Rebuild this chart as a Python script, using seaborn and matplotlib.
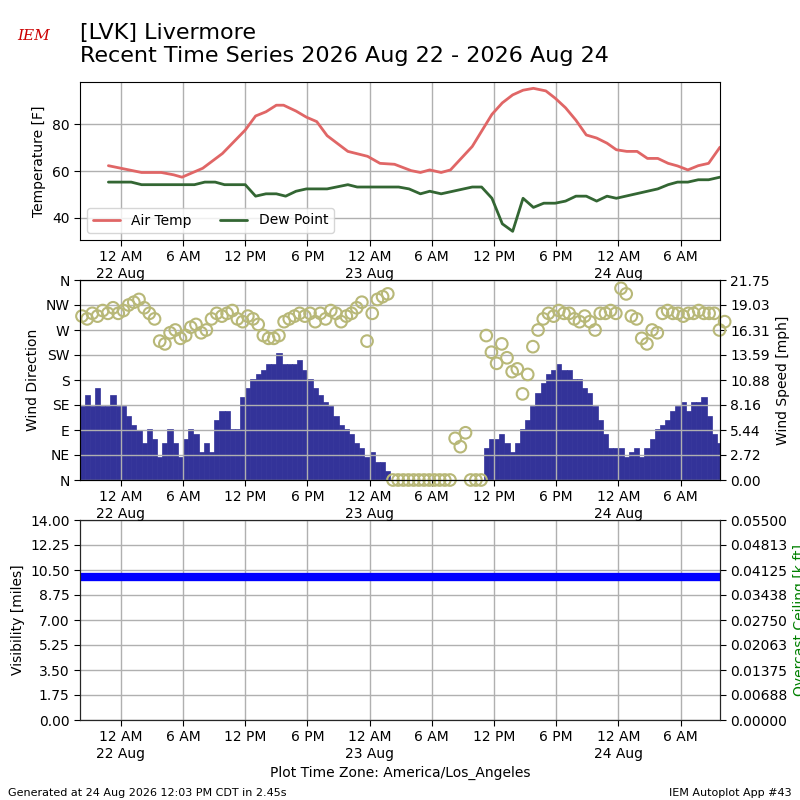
import numpy as np
import pandas as pd
import seaborn as sns
import matplotlib.pyplot as plt

sns.set_style("white")
plt.rcParams['font.family'] = ['DejaVu Sans']
plt.rcParams['text.color'] = 'black'
plt.rcParams['axes.labelcolor'] = 'black'
plt.rcParams['xtick.color'] = 'black'
plt.rcParams['ytick.color'] = 'black'

# hours relative to 12 AM 22 Aug
temp_hours = [-1.2, 2.0, 3.9, 5.1, 5.9, 7.9, 9.8, 12.0, 13.0, 14.0, 15.0, 15.7, 16.9, 17.9, 18.9,
              19.9, 21.9, 23.8, 25.0, 26.4, 28.0, 28.9, 29.8, 30.9, 31.8, 33.9, 35.8, 36.8, 37.8,
              38.8, 39.8, 41.0, 41.9, 42.9, 43.9, 44.9, 45.9, 46.9, 47.8, 48.8, 49.8, 50.8, 51.8,
              52.8, 53.7, 54.7, 55.7, 56.7, 57.8]
air_temp = [62.3, 59.4, 59.4, 58.4, 57.4, 61.2, 67.5, 77.5, 83.5, 85.3, 88.1, 88.1, 85.6, 83.0, 81.1,
            75.1, 68.4, 66.3, 63.3, 62.9, 60.2, 59.4, 60.5, 59.4, 60.5, 70.5, 84.2, 89.1, 92.5,
            94.5, 95.3, 94.2, 91.1, 87.0, 81.7, 75.4, 74.1, 71.9, 69.1, 68.4, 68.4, 65.4, 65.4,
            63.3, 62.2, 60.5, 62.3, 63.3, 70.2]
dew_hours = [-1.2, 1.0, 2.0, 7.1, 8.1, 9.1, 10.0, 12.0, 13.0, 14.0, 15.0, 15.9, 16.9, 17.9, 19.9,
             21.9, 22.8, 26.8, 27.8, 28.9, 29.8, 30.9, 33.9, 34.8, 35.8, 36.8, 37.8, 38.8, 39.8,
             40.8, 41.9, 42.9, 43.9, 44.9, 45.9, 46.9, 47.8, 51.8, 52.8, 53.7, 54.7, 55.7, 56.7, 57.8]
dew_point = [55.3, 55.3, 54.2, 54.2, 55.3, 55.3, 54.2, 54.2, 49.3, 50.3, 50.3, 49.3, 51.4, 52.4, 52.4,
             54.2, 53.2, 53.2, 52.4, 50.3, 51.4, 50.3, 53.2, 53.2, 48.4, 37.5, 34.3, 48.4, 44.5,
             46.3, 46.3, 47.2, 49.3, 49.3, 47.2, 49.3, 48.4, 52.4, 54.2, 55.3, 55.3, 56.3, 56.3, 57.4]

# 30 minute wind observations starting at -4 h
wind_speed = [8.0, 9.2, 8.0, 10.0, 8.0, 8.0, 9.2, 8.0,
              8.0, 7.0, 6.0, 5.4, 4.0, 5.5, 4.5, 2.5, 4.0, 5.6, 4.0, 2.5, 4.5, 5.5, 5.0, 3.0,
              4.0, 3.0, 6.5, 7.5, 7.5, 5.5, 5.5, 9.0, 10.0, 11.0, 11.5, 12.0, 12.6, 12.6, 13.8, 12.6,
              12.6, 12.6, 13.0, 12.0, 11.0, 10.0, 9.2, 8.5, 8.0, 7.0, 6.0, 5.5, 5.0, 4.0, 3.5, 2.5,
              3.0, 2.0, 2.0, 1.0, 0.0, 0.0, 0.0, 0.0, 0.0, 0.0, 0.0, 0.0, 0.0, 0.0, 0.0, 0.0,
              0.0, 0.0, 0.0, 0.0, 0.0, 0.0, 3.5, 4.5, 4.5, 5.0, 4.0, 3.0, 4.0, 5.5, 6.5, 8.0,
              9.5, 10.5, 11.5, 12.0, 12.6, 12.0, 12.0, 11.0, 11.0, 10.0, 9.5, 8.0, 6.5, 5.0, 3.5,
              3.5, 3.5, 2.5, 3.0, 3.5, 2.5, 3.5, 4.5, 5.5, 6.0, 6.5, 7.5, 8.0, 8.5, 7.5, 8.5,
              8.5, 9.0, 7.0, 5.0, 4.0, 2.5]
wind_dir = [295, 290, 300, 295, 305, 300, 310, 300,
            305, 315, 320, 325, 310, 300, 290, 250, 245, 265, 270, 255, 260, 275, 280, 265,
            270, 290, 300, 295, 300, 305, 290, 285, 295, 290, 280, 260, 255, 255, 260, 285,
            290, 295, 300, 295, 300, 285, 300, 290, 305, 300, 285, 295, 300, 310, 320, 250,
            300, 325, 330, 335, 0, 0, 0, 0, 0, 0, 0, 0, 0, 0, 0, 0,
            75, 60, 85, 0, 0, 0, 260, 230, 210, 245, 220, 195, 200, 155, 190, 240,
            270, 290, 300, 295, 305, 300, 300, 290, 285, 295, 285, 270, 300, 300, 305,
            300, 345, 335, 295, 290, 255, 245, 270, 265, 300, 305, 300, 300, 295, 300, 300,
            305, 300, 300, 300, 270, 285]
wind_hours = [-4.0 + 0.5 * i for i in range(len(wind_speed))]
visibility = [10.0] * len(wind_speed)

x_ticks = list(range(0, 55, 6))
x_labels = ["12 AM\n22 Aug", "6 AM", "12 PM", "6 PM", "12 AM\n23 Aug", "6 AM", "12 PM", "6 PM",
            "12 AM\n24 Aug", "6 AM"]
x_lim = (-3.94, 57.8)

fig = plt.figure(figsize=(8, 8), dpi=100)
ax1 = fig.add_axes([0.1, 0.7, 0.8, 0.1975])
ax2 = fig.add_axes([0.1, 0.4, 0.8, 0.25])
ax3 = fig.add_axes([0.1, 0.1, 0.8, 0.25])

sns.lineplot(x=temp_hours, y=air_temp, ax=ax1, color="#e06666", lw=2, label="Air Temp")
sns.lineplot(x=dew_hours, y=dew_point, ax=ax1, color="#336633", lw=2, label="Dew Point")
ax1.set_ylim(30.6, 98)
ax1.set_yticks([40, 60, 80])
ax1.set_ylabel("Temperature [F]")
ax1.legend(loc="lower left", ncol=2, fontsize=10)

# wind speed bars on right axis, direction on left
ax2r = ax2.twinx()
ax2r.bar(wind_hours, wind_speed, width=0.5, color="#333399", edgecolor="#333399", lw=0.5,
         align="edge", zorder=1)
ax2r.set_ylim(0, 21.75)
ax2r.set_yticks(np.linspace(0, 21.75, 9))
ax2r.set_yticklabels([f"{v:.2f}" for v in np.linspace(0, 21.75, 9)])
ax2r.set_ylabel("Wind Speed [mph]")
ax2.set_zorder(ax2r.get_zorder() + 1)
ax2.patch.set_visible(False)
sns.scatterplot(x=[h + 0.25 for h in wind_hours], y=wind_dir, ax=ax2, s=70, marker="o",
                facecolors="none", edgecolor="#b8b878", linewidth=1.5, clip_on=False)
ax2.set_ylim(0, 360)
ax2.set_yticks(range(0, 361, 45))
ax2.set_yticklabels(["N", "NE", "E", "SE", "S", "SW", "W", "NW", "N"])
ax2.set_ylabel("Wind Direction")

sns.lineplot(x=wind_hours, y=visibility, ax=ax3, color="blue", lw=6)
ax3.set_ylim(0, 14)
ax3.set_yticks(np.linspace(0, 14, 9))
ax3.set_ylabel("Visibility [miles]")
ax3r = ax3.twinx()
ax3r.set_ylim(0, 0.055)
ax3r.set_yticks(np.linspace(0, 0.055, 9))
ax3r.set_yticklabels([f"{v:.5f}" for v in np.linspace(0, 0.055, 9)])
ax3r.set_ylabel("Overcast Ceiling [k ft]", color="green")
ax3.set_xlabel("Plot Time Zone: America/Los_Angeles")

for ax in (ax1, ax2, ax3):
    ax.set_xlim(*x_lim)
    ax.set_xticks(x_ticks)
    ax.set_xticklabels(x_labels)
    ax.grid(True, color="#b0b0b0", lw=1)
    ax.tick_params(left=True, bottom=True, length=4)
    for s in ax.spines.values():
        s.set_color("black")
ax2r.tick_params(right=True, length=4)
ax3r.tick_params(right=True, length=4)

fig.text(0.1, 0.918, "[LVK] Livermore\nRecent Time Series 2026 Aug 22 - 2026 Aug 24",
         fontsize=16, va="bottom", ha="left", linespacing=1.15)
fig.text(0.042, 0.95, "IEM", color="#cc0000", fontsize=11, style="italic", ha="center",
         family="serif")
fig.text(0.01, 0.005, "Generated at 24 Aug 2026 12:03 PM CDT in 2.45s", fontsize=8)
fig.text(0.99, 0.005, "IEM Autoplot App #43", fontsize=8, ha="right")

fig.savefig("out.png", dpi=100)
